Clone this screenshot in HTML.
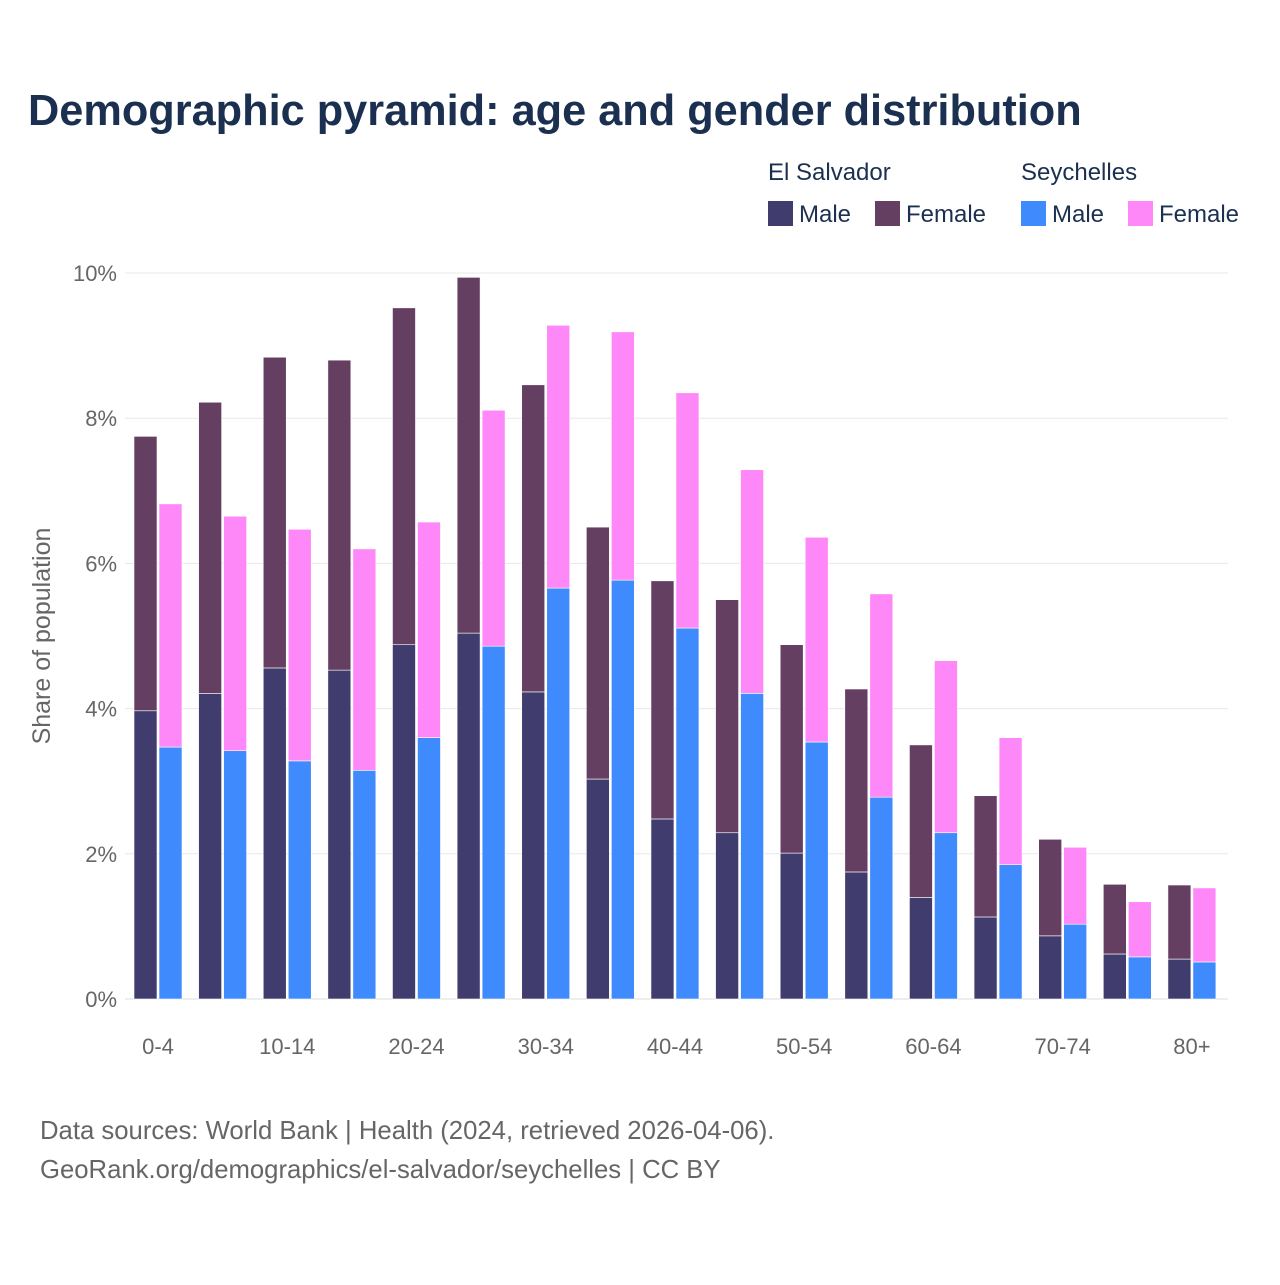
<!DOCTYPE html>
<html><head><meta charset="utf-8"><style>
body{margin:0;background:#fff;font-family:"Liberation Sans",sans-serif}
svg text{font-family:"Liberation Sans",sans-serif}
</style></head><body>
<svg width="1280" height="1280" viewBox="0 0 1280 1280">
<text x="28" y="125" font-size="43.3" font-weight="bold" fill="#1b3050">Demographic pyramid: age and gender distribution</text>
<g font-size="24" fill="#1b3050">
<text x="768" y="180">El Salvador</text>
<text x="1021" y="180">Seychelles</text>
<rect x="768" y="201" width="25" height="25" fill="#403d6e"/>
<text x="799" y="222">Male</text>
<rect x="875" y="201" width="25" height="25" fill="#653f62"/>
<text x="906" y="222">Female</text>
<rect x="1021" y="201" width="25" height="25" fill="#3f8bfd"/>
<text x="1052" y="222">Male</text>
<rect x="1128" y="201" width="25" height="25" fill="#ff88f9"/>
<text x="1159" y="222">Female</text>
</g>
<g id="grid"></g>
<g id="bars"></g>
<g id="xlabels"></g>
<text transform="translate(50,636) rotate(-90)" text-anchor="middle" font-size="25" fill="#666">Share of population</text>
<text x="40" y="1139" font-size="25.7" fill="#666">Data sources: World Bank | Health (2024, retrieved 2026-04-06).</text>
<text x="40" y="1178" font-size="25.7" fill="#666">GeoRank.org/demographics/el-salvador/seychelles | CC BY</text>
</svg>
<script>
const categories=["0-4","5-9","10-14","15-19","20-24","25-29","30-34","35-39","40-44","45-49","50-54","55-59","60-64","65-69","70-74","75-79","80+"];
const esMale=[3.97,4.21,4.56,4.53,4.88,5.04,4.23,3.03,2.48,2.29,2.01,1.75,1.40,1.13,0.87,0.62,0.55];
const esFemale=[3.78,4.01,4.28,4.27,4.64,4.90,4.23,3.47,3.28,3.21,2.87,2.52,2.10,1.67,1.33,0.96,1.02];
const syMale=[3.47,3.42,3.28,3.15,3.60,4.86,5.66,5.77,5.11,4.21,3.54,2.78,2.29,1.85,1.03,0.58,0.51];
const syFemale=[3.35,3.23,3.19,3.05,2.97,3.25,3.62,3.42,3.24,3.08,2.82,2.80,2.37,1.75,1.06,0.76,1.02];
const yTicks=[0,2,4,6,8,10];
const NS="http://www.w3.org/2000/svg";
const y0=999,pxPer=72.6,x0=157,step=64.62,bw=23;
const Y=v=>y0-v*pxPer;
const X=i=>x0+i*step;
function mk(t,a,parent){const e=document.createElementNS(NS,t);for(const k in a)e.setAttribute(k,a[k]);parent.appendChild(e);return e;}
const grid=document.getElementById('grid');
yTicks.forEach(t=>{
 const l=mk('line',{x1:125,x2:1228,y1:Y(t),y2:Y(t),stroke:t===0?'#ddd':'#e8e8e8','stroke-width':1},grid);
 
 
 const tx=mk('text',{x:117,y:Y(t)+8,'text-anchor':'end','font-size':22,fill:'#666'},grid);
 tx.textContent=t+'%';
 
 
});
const bars=document.getElementById('bars');
function bar(x,v0,v1,fill,name){
 const r=mk('rect',{x:x,y:Y(v1),width:bw,height:Y(v0)-Y(v1),fill:fill,stroke:'#fff','stroke-width':0.6},bars);
 
 
}
categories.forEach((c,i)=>{
 const xe=X(i)-bw, xs=X(i)+2;
 bar(xe,0,esMale[i],'#403d6e','bar-es-male-'+c);
 bar(xe,esMale[i],esMale[i]+esFemale[i],'#653f62','bar-es-female-'+c);
 bar(xs,0,syMale[i],'#3f8bfd','bar-sy-male-'+c);
 bar(xs,syMale[i],syMale[i]+syFemale[i],'#ff88f9','bar-sy-female-'+c);
 if(i%2===0){
  const t=mk('text',{x:X(i)+1,y:1054,'text-anchor':'middle','font-size':22,fill:'#666'},document.getElementById('xlabels'));
  t.textContent=c;
  
  
 }
});
</script>
</body></html>
